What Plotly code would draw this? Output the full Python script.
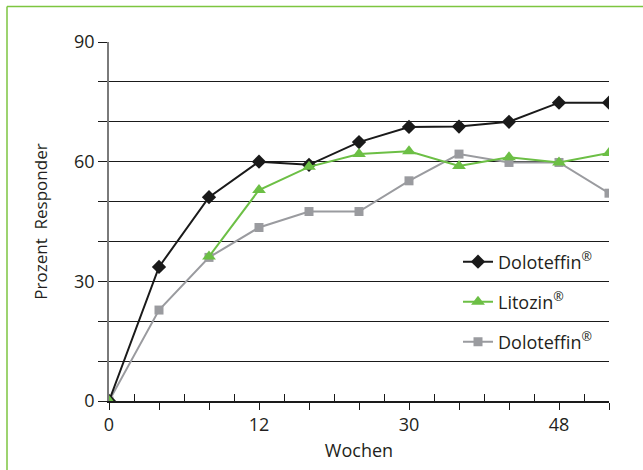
import plotly.graph_objects as go

# Data
week_labels = ["0", "4", "8", "12", "18", "24", "30", "36", "42", "48", "54"]
shown_labels = ["0", "12", "30", "48"]
doloteffin_1 = [0, 33.6, 51.1, 60.0, 59.2, 64.9, 68.7, 68.8, 70.0, 74.8, 74.8]
litozin = [0, None, 36.2, 52.9, 58.7, 61.9, 62.6, 58.9, 61.1, 59.8, 62.2]
doloteffin_2 = [0, 22.8, 36.0, 43.5, 47.5, 47.5, 55.2, 61.9, 59.8, 59.8, 52.1]
y_ticks = [0, 30, 60, 90]
y_grid = [0, 10, 20, 30, 40, 50, 60, 70, 80, 90]

x_pos = list(range(len(week_labels)))
label_pos = [i for i, w in enumerate(week_labels) if w in shown_labels]
label_txt = [week_labels[i] for i in label_pos]
half_pos = [i + 0.5 for i in x_pos[:-1]]

FONT = "Open Sans"
TXT = "#231f20"
BLACK = "#1a1a1a"
GREEN = "#6cbf45"
GRAY = "#9a9b9f"

fig = go.Figure()
fig.add_trace(go.Scatter(
    x=x_pos, y=doloteffin_2, mode="lines+markers", name="Doloteffin<sup>®</sup>",
    line=dict(color=GRAY, width=2),
    marker=dict(symbol="square", size=9, color=GRAY),
    legend="legend3"))
fig.add_trace(go.Scatter(
    x=x_pos, y=doloteffin_1, mode="lines+markers", name="Doloteffin<sup>®</sup>",
    line=dict(color=BLACK, width=2),
    marker=dict(symbol="diamond", size=11, color=BLACK),
    legend="legend"))
fig.add_trace(go.Scatter(
    x=x_pos, y=litozin, mode="lines+markers", name="Litozin<sup>®</sup>",
    line=dict(color=GREEN, width=2),
    marker=dict(symbol="triangle-up", size=12, color=GREEN),
    connectgaps=False,
    legend="legend2"))
# invisible trace carrying the overlay axis with the inner half-step ticks
fig.add_trace(go.Scatter(x=[None], y=[None], xaxis="x2", yaxis="y",
                         showlegend=False, hoverinfo="skip"))

L, R, T, B = 109, 609, 42, 401
W, H = 643, 470
pw, ph = R - L, B - T


def px(xp):
    return (xp - L) / pw


def py(yp):
    return (B - yp) / ph


leg_common = dict(
    font=dict(family=FONT, size=18, color=TXT),
    bgcolor="rgba(0,0,0,0)", borderwidth=0,
    xanchor="left", yanchor="middle", itemwidth=30,
)

fig.update_layout(
    width=W, height=H,
    margin=dict(l=L, r=W - R, t=T, b=H - B),
    paper_bgcolor="white", plot_bgcolor="white",
    font=dict(family=FONT, size=18, color=TXT),
    showlegend=True,
    hovermode=False,
    legend=dict(x=px(458), y=py(262), **leg_common),
    legend2=dict(x=px(458), y=py(302), **leg_common),
    legend3=dict(x=px(458), y=py(342), **leg_common),
    xaxis=dict(
        range=[0, 10], showgrid=False, zeroline=False,
        showline=True, linecolor=BLACK, linewidth=1.5,
        tickmode="array", tickvals=label_pos, ticktext=label_txt,
        ticks="outside", ticklen=7, tickwidth=1.2, tickcolor=BLACK,
        tickfont=dict(family=FONT, size=18, color=TXT),
        minor=dict(tickmode="array", tickvals=x_pos, ticks="outside",
                   ticklen=7, tickwidth=1.2, tickcolor=BLACK, showgrid=False),
        title=dict(text="Wochen", font=dict(family=FONT, size=18, color=TXT), standoff=9),
    ),
    xaxis2=dict(
        range=[0, 10], overlaying="x", anchor="y", side="bottom",
        showgrid=False, zeroline=False, showline=False, showticklabels=False,
        tickmode="array", tickvals=half_pos,
        ticks="inside", ticklen=7, tickwidth=1.2, tickcolor=BLACK,
    ),
    yaxis=dict(
        range=[0, 90], zeroline=False,
        showline=True, linecolor="#7a7a7a", linewidth=1.5,
        tickmode="array", tickvals=y_ticks, ticktext=[str(v) for v in y_ticks],
        ticks="outside", ticklen=9, tickwidth=1.2, tickcolor=BLACK,
        showgrid=True, gridcolor=BLACK, gridwidth=1,
        minor=dict(tickmode="array", tickvals=y_grid, ticks="outside", ticklen=9,
                   tickwidth=1.2, tickcolor=BLACK, showgrid=True,
                   gridcolor=BLACK, gridwidth=1),
        tickfont=dict(family=FONT, size=18, color=TXT),
        title=dict(text="Prozent  Responder", font=dict(family=FONT, size=17, color=TXT), standoff=22),
    ),
    shapes=[
        dict(type="line", xref="paper", yref="paper",
             x0=px(7), x1=px(W + 2), y0=py(6.5), y1=py(6.5),
             line=dict(color="#7dc540", width=1.5)),
        dict(type="line", xref="paper", yref="paper",
             x0=px(7), x1=px(7), y0=py(6.5), y1=py(H + 2),
             line=dict(color="#7dc540", width=1.5)),
    ],
)

fig.write_html("out.html", config={"displayModeBar": False},
               post_script="document.body.style.margin='0';")
